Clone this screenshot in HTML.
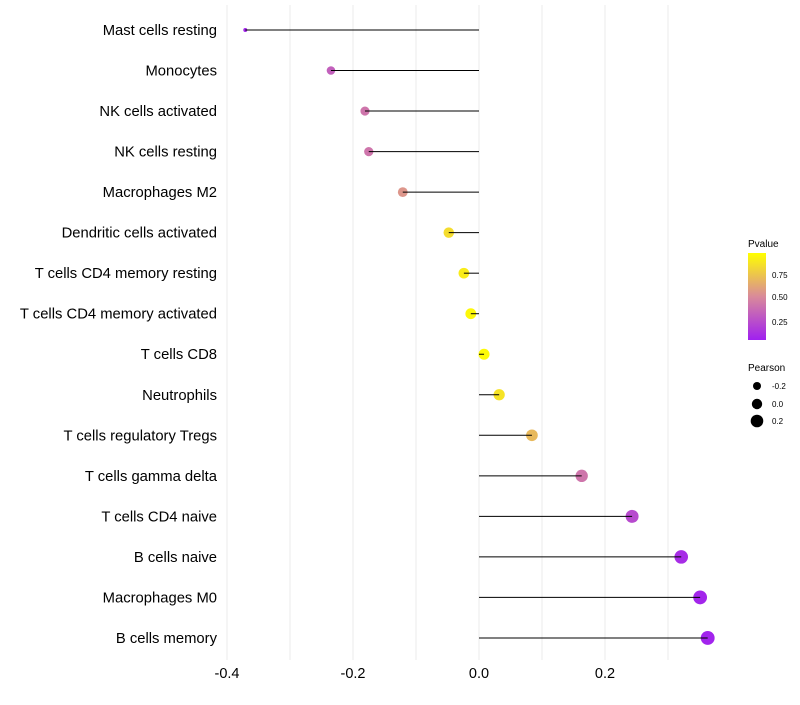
<!DOCTYPE html>
<html><head><meta charset="utf-8"><style>
body{margin:0;background:#fff;}
svg text{font-family:"Liberation Sans",sans-serif;}
</style></head><body>
<svg id="chart" width="800" height="700">
<defs><linearGradient id="pg" x1="0" y1="1" x2="0" y2="0">
<stop offset="0" stop-color="#a020f0"/><stop offset="0.5" stop-color="#d98a9a"/><stop offset="1" stop-color="#ffff00"/>
</linearGradient></defs>
<g id="grid"></g><g id="marks"></g><g id="labels"></g>
<g>
<text x="748" y="247" font-size="10">Pvalue</text>
<rect x="748" y="253" width="18" height="87" fill="url(#pg)"/>
<text x="772" y="278" font-size="8">0.75</text>
<text x="772" y="300" font-size="8">0.50</text>
<text x="772" y="325" font-size="8">0.25</text>
<text x="748" y="371" font-size="10">Pearson</text>
<circle cx="757" cy="386" r="4" fill="#000"/>
<circle cx="757" cy="404" r="5.2" fill="#000"/>
<circle cx="757" cy="421" r="6.3" fill="#000"/>
<text x="772" y="389" font-size="8">-0.2</text>
<text x="772" y="407" font-size="8">0.0</text>
<text x="772" y="424" font-size="8">0.2</text>
</g>
</svg>
<script>
const categories=["Mast cells resting","Monocytes","NK cells activated","NK cells resting","Macrophages M2","Dendritic cells activated","T cells CD4 memory resting","T cells CD4 memory activated","T cells CD8","Neutrophils","T cells regulatory  Tregs ","T cells gamma delta","T cells CD4 naive","B cells naive","Macrophages M0","B cells memory"];
const pearson=[-0.371,-0.235,-0.181,-0.175,-0.121,-0.048,-0.024,-0.013,0.008,0.032,0.084,0.163,0.243,0.321,0.351,0.363];
const pvalues=[0.03,0.3,0.4,0.4,0.55,0.85,0.92,0.97,0.98,0.88,0.7,0.4,0.2,0.06,0.03,0.02];
const xTicks=[-0.4,-0.2,0.0,0.2];
const xTickLabels=["-0.4","-0.2","0.0","0.2"];
const NS="http://www.w3.org/2000/svg";
const x=v=>479+v*630;
const y=i=>30+i*40.53;
const rad=v=>{const a=30+50*v;return a<13?2:Math.sqrt(a);};
function lerp(a,b,t){return a.map((c,k)=>Math.round(c+(b[k]-c)*t));}
function col(p){const P=[160,32,240],M=[217,138,154],Y=[255,255,0];
const c=p<0.5?lerp(P,M,p/0.5):lerp(M,Y,(p-0.5)/0.5);return `rgb(${c.join(",")})`;}
function mk(tag,attrs,parent){const e=document.createElementNS(NS,tag);for(const k in attrs)e.setAttribute(k,attrs[k]);document.getElementById(parent).appendChild(e);return e;}
for(let v=-0.4;v<=0.36;v+=0.1){const g=mk("line",{x1:x(v),x2:x(v),y1:5,y2:660,stroke:"#ebebeb","stroke-width":1},"grid");

}
xTicks.forEach((t,i)=>{const e=mk("text",{x:x(t),y:678,"font-size":14.5,"text-anchor":"middle"},"labels");e.textContent=xTickLabels[i];

});
categories.forEach((c,i)=>{
const t=mk("text",{x:217,y:y(i)+5,"font-size":14.8,"text-anchor":"end","xml:space":"preserve"},"labels");t.textContent=c;


const p=mk("circle",{cx:x(pearson[i]),cy:y(i),r:rad(pearson[i]),fill:col(pvalues[i])},"marks");


const l=mk("line",{x1:x(0),x2:x(pearson[i]),y1:y(i),y2:y(i),stroke:"#000","stroke-width":1},"marks");


});
</script>
</body></html>
